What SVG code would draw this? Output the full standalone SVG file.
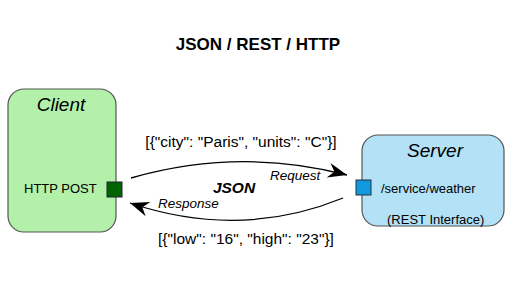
<svg xmlns="http://www.w3.org/2000/svg" width="512" height="308" viewBox="0 0 512 308">
<style>
text{font-family:"Liberation Sans",Arial,sans-serif;fill:#000}
.title{font-size:17px;font-weight:bold}
.nodeTitle{font-size:19px;font-style:italic}
.lbl{font-size:13px}
.json{font-size:15.5px}
.edge{fill:none;stroke:#000;stroke-width:1.3}
.elbl{font-size:13.5px;font-style:italic}
</style>
<defs>
<marker id="arr" markerUnits="userSpaceOnUse" markerWidth="24" markerHeight="20" viewBox="-20 -10 24 20" refX="0" refY="0" orient="auto">
<path d="M0,0 L-19,-7.5 L-13,0 L-19,7.5 Z" fill="#000"/>
</marker>
</defs>
<text class="title" x="258" y="50" text-anchor="middle">JSON / REST / HTTP</text>
<g id="client">
<rect x="8" y="89" width="108" height="143" rx="16" ry="16" fill="#b3f0a9" stroke="#555" stroke-width="1.2"/>
<text class="nodeTitle" x="61" y="111" text-anchor="middle">Client</text>
<text class="lbl" x="24" y="193">HTTP POST</text>
<rect x="107" y="182" width="15" height="15" fill="#006400" stroke="#223" stroke-width="1"/>
</g>
<g id="server">
<rect x="362" y="135" width="142" height="91" rx="16" ry="16" fill="#b3e2f6" stroke="#555" stroke-width="1.2"/>
<text class="nodeTitle" x="435" y="157" text-anchor="middle">Server</text>
<text class="lbl" x="381" y="193">/service/weather</text>
<text class="lbl" x="387" y="224">(REST Interface)</text>
<rect x="356" y="180" width="15" height="15" fill="#1199dd" stroke="#234" stroke-width="1"/>
</g>
<g id="connectors">
<path class="edge" d="M131,178 Q240,147 347,175" marker-end="url(#arr)"/>
<path class="edge" d="M343,198 Q240,240 130,203" marker-end="url(#arr)"/>
<text class="json" x="241" y="147" text-anchor="middle">[{"city": "Paris", "units": "C"}]</text>
<text class="elbl" x="270" y="180">Request</text>
<text x="234" y="193" text-anchor="middle" style="font-size:15.5px;font-weight:bold;font-style:italic">JSON</text>
<text class="elbl" x="158" y="208">Response</text>
<text class="json" x="246" y="244" text-anchor="middle">[{"low": "16", "high": "23"}]</text>
</g>
</svg>
